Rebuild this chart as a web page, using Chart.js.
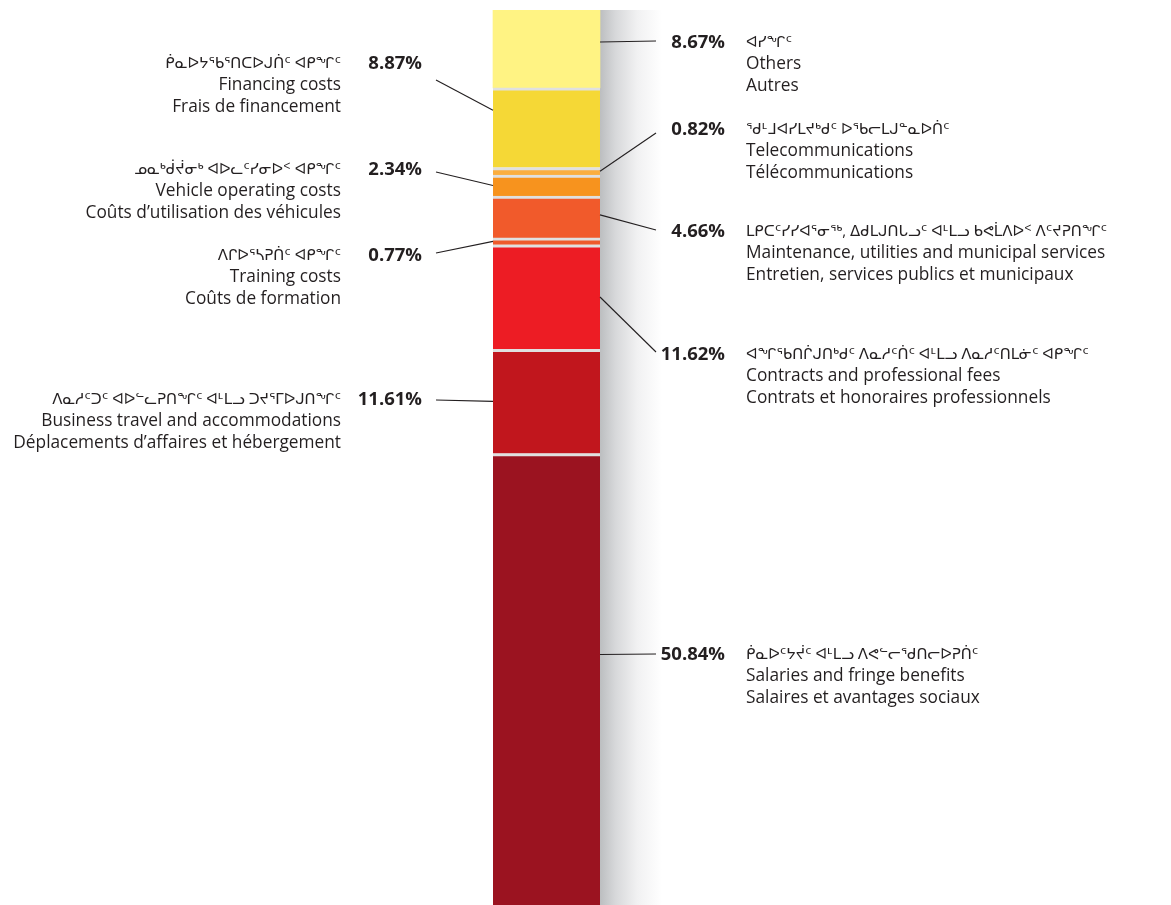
<!DOCTYPE html>
<html>
<head>
<meta charset="utf-8">
<title>Expenditures</title>
<script src="https://cdn.jsdelivr.net/npm/chart.js@4"></script>
<style>
  html, body { margin: 0; padding: 0; background: #fff; }
  #wrap { width: 1171px; height: 905px; }
</style>
</head>
<body>
<div id="wrap"><canvas id="myChart" width="1171" height="905"></canvas></div>
<script>
// Data, stacked from bottom to top
const categories = ['Salaries', 'Business travel', 'Contracts', 'Training', 'Maintenance',
                    'Vehicle', 'Telecommunications', 'Financing', 'Others'];
const shares = [50.84, 11.61, 11.62, 0.77, 4.66, 2.34, 0.82, 8.87, 8.67];
const labelsIu = [
    'ᑮᓇᐅᑦᔭᔫᑦ ᐊᒻᒪᓗ ᐱᕙᓪᓕᖁᑎᓕᐅᕈᑏᑦ',
    'ᐱᓇᓱᑦᑐᑦ ᐊᐅᓪᓚᕈᑎᖏᑦ ᐊᒻᒪᓗ ᑐᔪᕐᒥᐅᒍᑎᖏᑦ',
    'ᐊᖏᕐᑲᑎᒌᒍᑎᒃᑯᑦ ᐱᓇᓱᑦᑏᑦ ᐊᒻᒪᓗ ᐱᓇᓱᑦᑎᒪᓃᑦ ᐊᑭᖏᑦ',
    'ᐱᒋᐅᕐᓴᕈᑏᑦ ᐊᑭᖏᑦ',
    'ᒪᑭᑕᑦᓯᓯᐊᕐᓂᖅ, ᐃᑯᒪᒍᑎᒐᓗᑦ ᐊᒻᒪᓗ ᑲᕙᒫᐱᐅᑉ ᐱᑦᔪᕈᑎᖏᑦ',
    'ᓄᓇᒃᑰᔫᓂᒃ ᐊᐅᓚᑦᓯᓂᐅᑉ ᐊᑭᖏᑦ',
    'ᖁᒻᒧᐊᓯᒪᔪᒃᑯᑦ ᐅᖃᓕᒪᒍᓐᓇᐅᑏᑦ',
    'ᑮᓇᐅᔭᕐᑲᕐᑎᑕᐅᒍᑏᑦ ᐊᑭᖏᑦ',
    'ᐊᓯᖏᑦ'
];
const labelsEn = ['Salaries and fringe benefits', 'Business travel and accommodations',
    'Contracts and professional fees', 'Training costs',
    'Maintenance, utilities and municipal services', 'Vehicle operating costs',
    'Telecommunications', 'Financing costs', 'Others'];
const labelsFr = ['Salaires et avantages sociaux', 'Déplacements d’affaires et hébergement',
    'Contrats et honoraires professionnels', 'Coûts de formation',
    'Entretien, services publics et municipaux', 'Coûts d’utilisation des véhicules',
    'Télécommunications', 'Frais de financement', 'Autres'];

// Styles
const colours = ['#9b1320', '#c1161d', '#ed1c24', '#ee5a2c', '#f15a2b',
                 '#f7931e', '#fbae3f', '#f5d836', '#fff383'];

// Where each callout goes (side, point on the segment, end of leader, first text line)
const callouts = [
    { side: 'right', frac: 0.44, lineY: 654, textY: 655 },
    { side: 'left',  frac: 0.5,  lineY: 400, textY: 400 },
    { side: 'right', frac: 0.5,  lineY: 352, textY: 355 },
    { side: 'left',  frac: 0.5,  lineY: 253, textY: 256 },
    { side: 'right', frac: 0.45, lineY: 230, textY: 232 },
    { side: 'left',  frac: 0.5,  lineY: 172, textY: 170 },
    { side: 'right', frac: 0.5,  lineY: 133, textY: 130 },
    { side: 'left',  frac: 0.28, lineY: 80,  textY: 64 },
    { side: 'right', frac: 0.41, lineY: 41,  textY: 43 }
];

const TEXT = '#231f20';
const FONT = "'Open Sans', 'DejaVu Sans', sans-serif";
const LINE_H = 21.3;

// separator colour: white to grey across the bar
function separatorGradient(context) {
    const chart = context.chart;
    const el = context.element;
    if (!chart.chartArea || !el || el.width === undefined) return '#e0e0e0';
    const left = el.x - el.width / 2;
    const g = chart.ctx.createLinearGradient(left, 0, left + el.width, 0);
    g.addColorStop(0, '#ffffff');
    g.addColorStop(1, '#b5b6b8');
    return g;
}

// grey shadow on the right of the bar
const shadowPlugin = {
    id: 'barShadow',
    beforeDatasetsDraw(chart) {
        const el = chart.getDatasetMeta(0).data[0];
        if (!el) return;
        const right = el.x + el.width / 2;
        const area = chart.chartArea;
        const ctx = chart.ctx;
        const g = ctx.createLinearGradient(right, 0, right + 62, 0);
        g.addColorStop(0, '#bcbec0');
        g.addColorStop(0.25, '#d7d8da');
        g.addColorStop(0.6, '#f1f1f2');
        g.addColorStop(1, '#ffffff');
        ctx.save();
        ctx.fillStyle = g;
        ctx.fillRect(right, area.top, 62, area.bottom - area.top);
        ctx.restore();
    }
};

// percent + three language labels with leader lines
const calloutPlugin = {
    id: 'callouts',
    afterDatasetsDraw(chart) {
        const ctx = chart.ctx;
        ctx.save();
        chart.data.datasets.forEach((ds, i) => {
            const el = chart.getDatasetMeta(i).data[0];
            const c = callouts[i];
            const yOnBar = el.y + c.frac * (el.base - el.y);
            const left = el.x - el.width / 2;
            const right = el.x + el.width / 2;

            ctx.strokeStyle = TEXT;
            ctx.lineWidth = 1.1;
            ctx.beginPath();
            if (c.side === 'right') {
                ctx.moveTo(right, yOnBar);
                ctx.lineTo(656, c.lineY);
            } else {
                ctx.moveTo(left, yOnBar);
                ctx.lineTo(436, c.lineY);
            }
            ctx.stroke();

            ctx.fillStyle = TEXT;
            ctx.textBaseline = 'middle';
            const pct = ds.data[0].toFixed(2) + '%';
            const lines = [labelsIu[i], labelsEn[i], labelsFr[i]];

            ctx.font = 'bold 18.5px ' + FONT;
            ctx.textAlign = 'right';
            ctx.fillText(pct, c.side === 'right' ? 725 : 422, c.textY);

            ctx.textAlign = c.side === 'right' ? 'left' : 'right';
            const x = c.side === 'right' ? 746 : 341;
            lines.forEach((t, k) => {
                ctx.font = (k === 0 ? '15px ' : '17.3px ') + FONT;
                ctx.fillText(t, x, c.textY + k * LINE_H);
            });
        });
        ctx.restore();
    }
};

function createChart() {
    const ctx = document.getElementById('myChart').getContext('2d');

    new Chart(ctx, {
        type: 'bar',
        data: {
            labels: [''],
            datasets: categories.map((name, i) => ({
                label: name,
                data: [shares[i]],
                backgroundColor: colours[i],
                borderColor: separatorGradient,
                // gap above every segment except the top one
                borderWidth: { top: i === categories.length - 1 ? 0 : 3, right: 0, bottom: 0, left: 0 },
                borderSkipped: false,
                barThickness: 107
            }))
        },
        options: {
            responsive: false,
            animation: false,
            layout: { padding: { top: 10, bottom: 0, left: 0, right: 78 } },
            plugins: {
                legend: { display: false },
                tooltip: { enabled: false }
            },
            scales: {
                x: { stacked: true, display: false },
                // bottom of the salaries segment runs off the page
                y: { stacked: true, display: false, min: 0.6, max: 100.2 }
            }
        },
        plugins: [shadowPlugin, calloutPlugin]
    });
}

createChart();
</script>
</body>
</html>
